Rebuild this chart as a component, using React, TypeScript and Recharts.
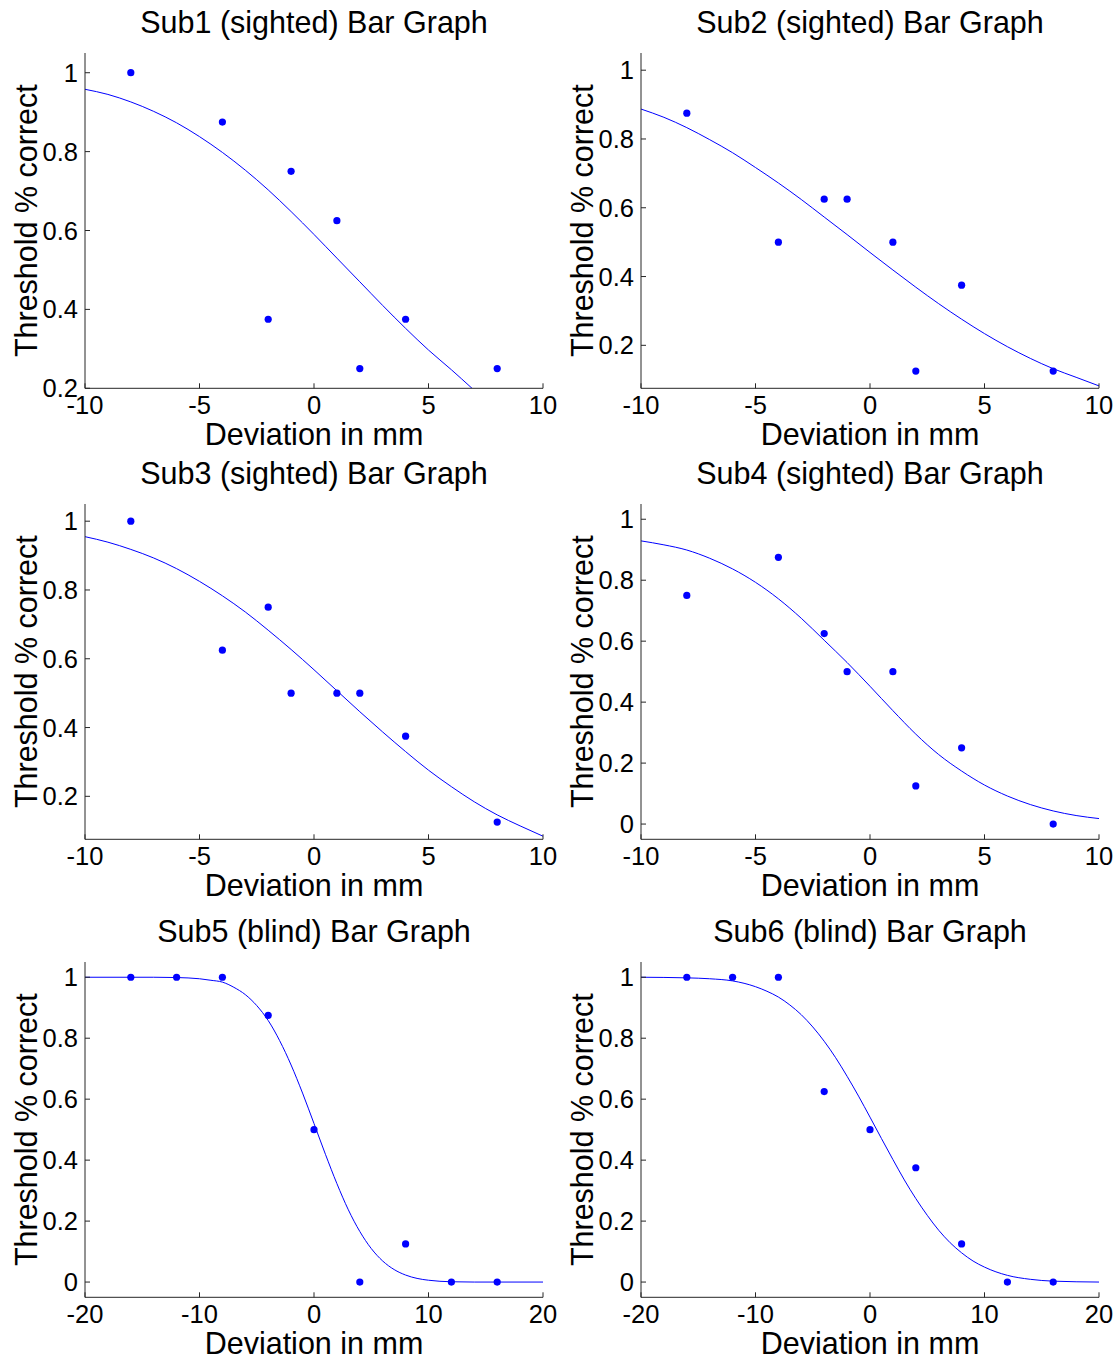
import React from 'react';
import { ComposedChart, Line, Scatter, XAxis, YAxis } from 'recharts';

// ---------- Data ----------
const titles = [
  'Sub1 (sighted) Bar Graph',
  'Sub2 (sighted) Bar Graph',
  'Sub3 (sighted) Bar Graph',
  'Sub4 (sighted) Bar Graph',
  'Sub5 (blind) Bar Graph',
  'Sub6 (blind) Bar Graph',
];

const xLabel = 'Deviation in mm';
const yLabel = 'Threshold % correct';

const sightedX = [-8, -4, -2, -1, 1, 2, 4, 8];
const blindX = [-16, -12, -8, -4, 0, 4, 8, 12, 16];

const sub1Y = [1, 0.875, 0.375, 0.75, 0.625, 0.25, 0.375, 0.25];
const sub2Y = [0.875, 0.5, 0.625, 0.625, 0.5, 0.125, 0.375, 0.125];
const sub3Y = [1, 0.625, 0.75, 0.5, 0.5, 0.5, 0.375, 0.125];
const sub4Y = [0.75, 0.875, 0.625, 0.5, 0.5, 0.125, 0.25, 0];
const sub5Y = [1, 1, 1, 0.875, 0.5, 0, 0.125, 0, 0];
const sub6Y = [1, 1, 1, 0.625, 0.5, 0.375, 0.125, 0, 0];

// fitted curves
const sub1CurveX = [-10, -9, -8, -7, -6, -5, -4, -3, -2, -1, 0, 1, 2, 3, 4, 5, 6, 6.9];
const sub1CurveY = [0.958, 0.945, 0.926, 0.902, 0.873, 0.838, 0.798, 0.753, 0.703, 0.648, 0.59, 0.53, 0.47, 0.41, 0.352, 0.297, 0.247, 0.2];

const sub2CurveX = [-10, -9, -8, -7, -6, -5, -4, -3, -2, -1, 0, 1, 2, 3, 4, 5, 6, 7, 8, 9, 10];
const sub2CurveY = [0.887, 0.863, 0.833, 0.798, 0.76, 0.717, 0.672, 0.624, 0.573, 0.522, 0.47, 0.419, 0.369, 0.321, 0.276, 0.234, 0.196, 0.162, 0.132, 0.107, 0.082];

const sub3CurveX = [-10, -9, -8, -7, -6, -5, -4, -3, -2, -1, 0, 1, 2, 3, 4, 5, 6, 7, 8, 9, 10];
const sub3CurveY = [0.955, 0.939, 0.918, 0.893, 0.862, 0.825, 0.783, 0.736, 0.683, 0.627, 0.568, 0.507, 0.446, 0.387, 0.33, 0.276, 0.228, 0.184, 0.146, 0.114, 0.084];

const sub4CurveX = [-10, -9, -8, -7, -6, -5, -4, -3, -2, -1, 0, 1, 2, 3, 4, 5, 6, 7, 8, 9, 10];
const sub4CurveY = [0.929, 0.916, 0.899, 0.872, 0.837, 0.793, 0.739, 0.675, 0.603, 0.53, 0.452, 0.372, 0.295, 0.228, 0.174, 0.128, 0.092, 0.064, 0.043, 0.028, 0.018];

const sub5CurveX = [-20, -14, -12, -10, -9, -8, -7, -6, -5, -4, -3, -2, -1, 0, 1, 2, 3, 4, 5, 6, 7, 8, 9, 10, 12, 14, 20];
const sub5CurveY = [1, 1, 0.999, 0.995, 0.99, 0.984, 0.967, 0.943, 0.907, 0.858, 0.792, 0.712, 0.62, 0.52, 0.419, 0.323, 0.237, 0.166, 0.11, 0.069, 0.041, 0.023, 0.012, 0.006, 0.001, 0, 0];

const sub6CurveX = [-20, -16, -14, -12, -10, -9, -8, -7, -6, -5, -4, -3, -2, -1, 0, 1, 2, 3, 4, 5, 6, 7, 8, 9, 10, 12, 14, 16, 20];
const sub6CurveY = [1, 0.998, 0.995, 0.988, 0.969, 0.954, 0.935, 0.909, 0.877, 0.837, 0.79, 0.736, 0.675, 0.61, 0.541, 0.471, 0.402, 0.335, 0.274, 0.219, 0.17, 0.129, 0.096, 0.069, 0.049, 0.022, 0.009, 0.003, 0];

const narrowXTicks = [-10, -5, 0, 5, 10];
const wideXTicks = [-20, -10, 0, 10, 20];
const yTicksFrom02 = [0.2, 0.4, 0.6, 0.8, 1];
const yTicksFrom0 = [0, 0.2, 0.4, 0.6, 0.8, 1];

// ---------- Helpers ----------
const zip = (xs: number[], ys: number[]) => xs.map((x, i) => ({ x, y: ys[i] }));

const FONT = '"Liberation Sans", Arial, Helvetica, sans-serif';
const BLUE = '#0000ff';
const AXIS = '#262626';

const ML = 84; // y-axis width == plot left inside wrapper
const MT = 53; // top margin inside wrapper
const PW = 458; // plot width
const PH = 335.3; // plot height
const W = 560;
const H = 460;
const XAH = 70;
const TICK_FS = 25.5;
const LABEL_FS = 30.5;

type PanelProps = {
  title: string;
  left: number;
  top: number;
  xDomain: [number, number];
  xTicks: number[];
  yDomain: [number, number];
  yTicks: number[];
  pts: { x: number; y: number }[];
  curve: { x: number; y: number }[];
};

const Dot = (props: any) => {
  const { cx, cy } = props;
  if (cx == null || cy == null) return null;
  return <circle cx={cx} cy={cy} r={3.6} fill={BLUE} />;
};

function Panel({ title, left, top, xDomain, xTicks, yDomain, yTicks, pts, curve }: PanelProps) {
  const mb = H - MT - PH - XAH;
  const cx = ML + PW / 2;
  return (
    <div style={{ position: 'absolute', left: left - ML, top: top - MT, width: W, height: H }}>
      <ComposedChart
        width={W}
        height={H}
        margin={{ top: MT, right: W - ML - PW, bottom: mb, left: 0 }}
        style={{ fontFamily: FONT }}
      >
        <XAxis
          type="number"
          dataKey="x"
          domain={xDomain}
          ticks={xTicks}
          allowDataOverflow
          interval={0}
          height={XAH}
          tickSize={-5}
          tickMargin={12.5}
          axisLine={{ stroke: AXIS, strokeWidth: 1 }}
          tickLine={{ stroke: AXIS, strokeWidth: 1 }}
          tick={{ fill: '#000', fontSize: TICK_FS, fontFamily: FONT }}
        />
        <YAxis
          type="number"
          dataKey="y"
          domain={yDomain}
          ticks={yTicks}
          allowDataOverflow
          interval={0}
          width={ML}
          tickSize={-5}
          tickMargin={12}
          axisLine={{ stroke: AXIS, strokeWidth: 1 }}
          tickLine={{ stroke: AXIS, strokeWidth: 1 }}
          tick={{ fill: '#000', fontSize: TICK_FS, fontFamily: FONT }}
        />
        <Line
          data={curve}
          dataKey="y"
          type="monotone"
          stroke={BLUE}
          strokeWidth={1}
          dot={false}
          activeDot={false}
          isAnimationActive={false}
        />
        <Scatter data={pts} dataKey="y" fill={BLUE} shape={Dot} isAnimationActive={false} />
        <text x={cx} y={MT - 20} textAnchor="middle" fontSize={LABEL_FS} fontFamily={FONT} fill="#000">
          {title}
        </text>
        <text x={cx} y={MT + PH + 57} textAnchor="middle" fontSize={LABEL_FS} fontFamily={FONT} fill="#000">
          {xLabel}
        </text>
        <text
          transform={`translate(${ML - 48}, ${MT + PH / 2}) rotate(-90)`}
          textAnchor="middle"
          fontSize={LABEL_FS}
          fontFamily={FONT}
          fill="#000"
        >
          {yLabel}
        </text>
      </ComposedChart>
    </div>
  );
}

const colLeft = [84.5, 641];
const rowTop = [53, 504.3, 962];

export default function App() {
  const panels: PanelProps[] = [
    { title: titles[0], left: colLeft[0], top: rowTop[0], xDomain: [-10, 10], xTicks: narrowXTicks, yDomain: [0.2, 1.05], yTicks: yTicksFrom02, pts: zip(sightedX, sub1Y), curve: zip(sub1CurveX, sub1CurveY) },
    { title: titles[1], left: colLeft[1], top: rowTop[0], xDomain: [-10, 10], xTicks: narrowXTicks, yDomain: [0.075, 1.05], yTicks: yTicksFrom02, pts: zip(sightedX, sub2Y), curve: zip(sub2CurveX, sub2CurveY) },
    { title: titles[2], left: colLeft[0], top: rowTop[1], xDomain: [-10, 10], xTicks: narrowXTicks, yDomain: [0.075, 1.05], yTicks: yTicksFrom02, pts: zip(sightedX, sub3Y), curve: zip(sub3CurveX, sub3CurveY) },
    { title: titles[3], left: colLeft[1], top: rowTop[1], xDomain: [-10, 10], xTicks: narrowXTicks, yDomain: [-0.05, 1.05], yTicks: yTicksFrom0, pts: zip(sightedX, sub4Y), curve: zip(sub4CurveX, sub4CurveY) },
    { title: titles[4], left: colLeft[0], top: rowTop[2], xDomain: [-20, 20], xTicks: wideXTicks, yDomain: [-0.05, 1.05], yTicks: yTicksFrom0, pts: zip(blindX, sub5Y), curve: zip(sub5CurveX, sub5CurveY) },
    { title: titles[5], left: colLeft[1], top: rowTop[2], xDomain: [-20, 20], xTicks: wideXTicks, yDomain: [-0.05, 1.05], yTicks: yTicksFrom0, pts: zip(blindX, sub6Y), curve: zip(sub6CurveX, sub6CurveY) },
  ];
  return (
    <div style={{ position: 'absolute', left: 0, top: 0, width: 1118, height: 1359, background: '#fff', overflow: 'hidden' }}>
      {panels.map((p, i) => (
        <Panel key={i} {...p} />
      ))}
    </div>
  );
}
